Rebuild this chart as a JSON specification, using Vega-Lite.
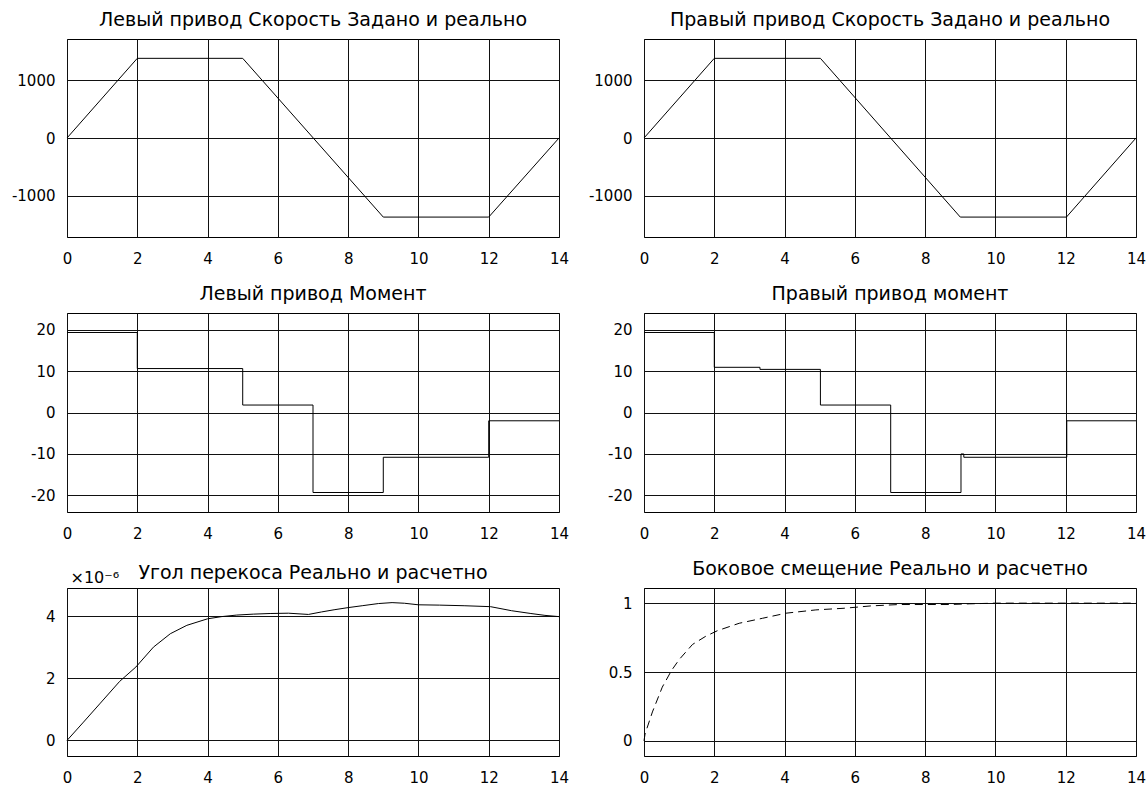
{
  "$schema": "https://vega.github.io/schema/vega-lite/v6.json",
  "padding": {"left": 10, "top": 10, "right": 5, "bottom": 5},
  "background": "white",
  "bounds": "flush",
  "columns": 2,
  "spacing": {"row": 76, "column": 85},
  "datasets": {
    "speedL": [
      {"t": 0, "v": 0}, {"t": 2, "v": 1380}, {"t": 5, "v": 1380},
      {"t": 9, "v": -1370}, {"t": 12, "v": -1370}, {"t": 14, "v": 0}
    ],
    "speedR": [
      {"t": 0, "v": 0}, {"t": 2, "v": 1380}, {"t": 5.02, "v": 1380},
      {"t": 9, "v": -1370}, {"t": 12.02, "v": -1370}, {"t": 14, "v": 0}
    ],
    "momL": [
      {"t": 0, "v": 19.3}, {"t": 2, "v": 10.6}, {"t": 5, "v": 1.8},
      {"t": 7, "v": -19.3}, {"t": 9, "v": -10.8}, {"t": 12, "v": -2},
      {"t": 14, "v": -2}
    ],
    "momR": [
      {"t": 0, "v": 19.3}, {"t": 2, "v": 10.9}, {"t": 3.3, "v": 10.4},
      {"t": 5.02, "v": 1.8}, {"t": 7.02, "v": -19.3}, {"t": 9.02, "v": -10.0},
      {"t": 9.1, "v": -10.8}, {"t": 12.03, "v": -2}, {"t": 14, "v": -2}
    ],
    "angle": [
      {"t": 0, "v": 0}, {"t": 0.47, "v": 0.59}, {"t": 0.95, "v": 1.2},
      {"t": 1.5, "v": 1.9}, {"t": 1.96, "v": 2.36}, {"t": 2.46, "v": 3.0},
      {"t": 2.94, "v": 3.43}, {"t": 3.41, "v": 3.7}, {"t": 4.0, "v": 3.91},
      {"t": 4.4, "v": 3.98}, {"t": 4.83, "v": 4.03}, {"t": 5.3, "v": 4.06},
      {"t": 5.78, "v": 4.08}, {"t": 6.3, "v": 4.09}, {"t": 6.87, "v": 4.05},
      {"t": 7.24, "v": 4.13}, {"t": 7.6, "v": 4.2}, {"t": 8.0, "v": 4.27},
      {"t": 8.4, "v": 4.33}, {"t": 8.86, "v": 4.4}, {"t": 9.25, "v": 4.43},
      {"t": 9.6, "v": 4.41}, {"t": 10.0, "v": 4.36}, {"t": 10.6, "v": 4.35},
      {"t": 11.3, "v": 4.33}, {"t": 12.05, "v": 4.3}, {"t": 12.65, "v": 4.17},
      {"t": 13.2, "v": 4.08}, {"t": 13.6, "v": 4.02}, {"t": 14, "v": 3.98}
    ],
    "offset": [
      {"t": 0, "v": 0}, {"t": 0.03, "v": 0.05}, {"t": 0.24, "v": 0.21},
      {"t": 0.52, "v": 0.39}, {"t": 0.78, "v": 0.51}, {"t": 1.0, "v": 0.59},
      {"t": 1.38, "v": 0.7}, {"t": 1.76, "v": 0.76}, {"t": 2.09, "v": 0.8},
      {"t": 2.71, "v": 0.854}, {"t": 3.37, "v": 0.89}, {"t": 4.04, "v": 0.927},
      {"t": 4.89, "v": 0.951}, {"t": 5.7, "v": 0.963}, {"t": 6.46, "v": 0.98},
      {"t": 7.26, "v": 0.99}, {"t": 8.69, "v": 0.99}, {"t": 9.26, "v": 0.995},
      {"t": 10, "v": 1.0}, {"t": 12, "v": 1.0}, {"t": 14, "v": 1.0}
    ]
  },
  "concat": [
    {
      "title": "Левый привод Скорость Задано и реально",
      "width": 492, "height": 198,
      "data": {"name": "speedL"},
      "mark": {"type": "line"},
      "encoding": {
        "x": {"field": "t", "type": "quantitative", "scale": {"domain": [0, 14], "nice": false}, "axis": {"values": [0, 2, 4, 6, 8, 10, 12, 14], "title": null}},
        "y": {"field": "v", "type": "quantitative", "scale": {"domain": [-1715, 1715], "nice": false, "zero": false}, "axis": {"values": [-1000, 0, 1000], "format": "d", "title": null}}
      }
    },
    {
      "title": "Правый привод Скорость Задано и реально",
      "width": 492, "height": 198,
      "data": {"name": "speedR"},
      "mark": {"type": "line"},
      "encoding": {
        "x": {"field": "t", "type": "quantitative", "scale": {"domain": [0, 14], "nice": false}, "axis": {"values": [0, 2, 4, 6, 8, 10, 12, 14], "title": null}},
        "y": {"field": "v", "type": "quantitative", "scale": {"domain": [-1715, 1715], "nice": false, "zero": false}, "axis": {"values": [-1000, 0, 1000], "format": "d", "title": null}}
      }
    },
    {
      "title": "Левый привод Момент",
      "width": 492, "height": 199,
      "data": {"name": "momL"},
      "mark": {"type": "line", "interpolate": "step-after"},
      "encoding": {
        "x": {"field": "t", "type": "quantitative", "scale": {"domain": [0, 14], "nice": false}, "axis": {"values": [0, 2, 4, 6, 8, 10, 12, 14], "title": null}},
        "y": {"field": "v", "type": "quantitative", "scale": {"domain": [-24, 24], "nice": false, "zero": false}, "axis": {"values": [-20, -10, 0, 10, 20], "format": "d", "title": null}}
      }
    },
    {
      "title": "Правый привод момент",
      "width": 492, "height": 199,
      "data": {"name": "momR"},
      "mark": {"type": "line", "interpolate": "step-after"},
      "encoding": {
        "x": {"field": "t", "type": "quantitative", "scale": {"domain": [0, 14], "nice": false}, "axis": {"values": [0, 2, 4, 6, 8, 10, 12, 14], "title": null}},
        "y": {"field": "v", "type": "quantitative", "scale": {"domain": [-24, 24], "nice": false, "zero": false}, "axis": {"values": [-20, -10, 0, 10, 20], "format": "d", "title": null}}
      }
    },
    {
      "title": {"text": "Угол перекоса Реально и расчетно", "offset": -14},
      "width": 492, "height": 168,
      "data": {"name": "angle"},
      "mark": {"type": "line"},
      "encoding": {
        "x": {"field": "t", "type": "quantitative", "scale": {"domain": [0, 14], "nice": false}, "axis": {"values": [0, 2, 4, 6, 8, 10, 12, 14], "title": null}},
        "y": {"field": "v", "type": "quantitative", "scale": {"domain": [-0.5, 4.9], "nice": false, "zero": false}, "axis": {"values": [0, 2, 4], "format": "d", "title": "×10⁻⁶", "titleAngle": 0, "titleAlign": "left", "titleBaseline": "alphabetic", "titleX": 3, "titleY": -6, "titleFontSize": 16, "titleFontWeight": "normal", "titleColor": "#000"}}
      }
    },
    {
      "title": "Боковое смещение Реально и расчетно",
      "width": 492, "height": 168,
      "data": {"name": "offset"},
      "mark": {"type": "line", "strokeDash": [8, 5]},
      "encoding": {
        "x": {"field": "t", "type": "quantitative", "scale": {"domain": [0, 14], "nice": false}, "axis": {"values": [0, 2, 4, 6, 8, 10, 12, 14], "title": null}},
        "y": {"field": "v", "type": "quantitative", "scale": {"domain": [-0.11, 1.11], "nice": false, "zero": false}, "axis": {"values": [0, 0.5, 1], "format": "~g", "title": null}}
      }
    }
  ],
  "config": {
    "font": "DejaVu Sans",
    "locale": {"number": {"decimal": ".", "thousands": "", "grouping": [3], "currency": ["", ""], "minus": "-"}},
    "view": {"stroke": "#000", "strokeWidth": 1},
    "axis": {
      "grid": true, "gridColor": "#111", "gridOpacity": 1, "gridWidth": 1,
      "domain": false, "ticks": false, "tickSize": 0,
      "labelFontSize": 15, "labelColor": "#000", "labelFlush": false,
      "labelOverlap": false
    },
    "axisX": {"labelPadding": 14},
    "axisY": {"labelPadding": 12},
    "title": {"fontSize": 19, "fontWeight": "normal", "color": "#000", "offset": 9, "baseline": "alphabetic", "anchor": "middle"},
    "line": {"color": "#000", "strokeWidth": 1}
  }
}
